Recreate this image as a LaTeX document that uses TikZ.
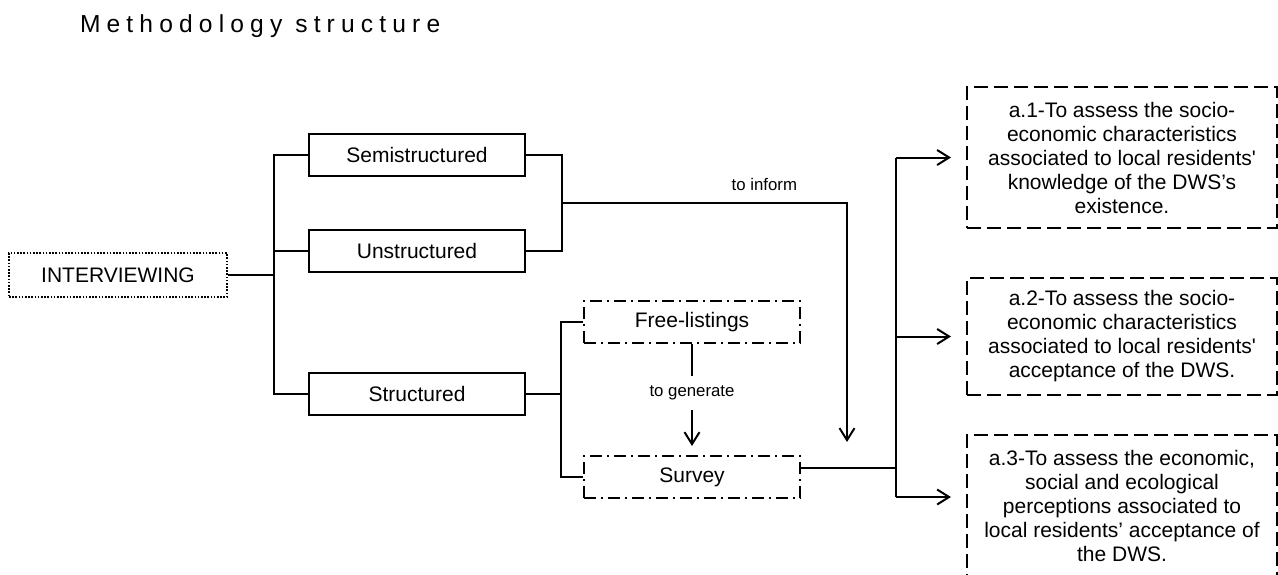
\documentclass[tikz,border=0pt]{standalone}
\usepackage{fontspec}
\setmainfont{Liberation Sans}
\usetikzlibrary{arrows.meta,positioning,calc}

\begin{document}
\begin{tikzpicture}[>={Straight Barb[length=6pt,width=7.5pt]},line width=1pt,on grid,
  font=\fontsize{10.5}{12}\selectfont,
  box/.style        ={draw,inner sep=0pt,minimum width=108pt,minimum height=21pt},
  dotbox/.style     ={box,line width=0.8pt,dash pattern=on 0.8pt off 0.8pt,minimum width=109pt,minimum height=22pt},
  dashdotbox/.style ={box,dash pattern=on 6pt off 2.5pt on 1pt off 2.5pt},
  aimbox/.style     ={draw,dash pattern=on 7pt off 3pt,inner sep=0pt,minimum width=155pt,align=center},
  lab/.style        ={font=\fontsize{8.4}{10}\selectfont,inner sep=2pt}]
\useasboundingbox (0,0) rectangle (639pt,-287pt);
\clip (0,0) rectangle (639pt,-287pt);
\node[anchor=base west,inner sep=0pt,font=\fontsize{12.3}{14}\selectfont\addfontfeature{LetterSpace=25}]
  (title) at (39.5pt,-16.2pt) {Methodology structure};

  \node[box]        (semi) at (208.5pt,-77.5pt)              {Semistructured};
  \node[box]        (unst) [below=48pt of semi]             {Unstructured};
  \node[box]        (stru) [below=71.5pt of unst]           {Structured};
  \node[dotbox]     (int)  [below left=12pt and 149.5pt of unst] {INTERVIEWING};
  \node[dashdotbox] (fl)   [above right=36pt and 137.5pt of stru] {Free-listings};
  \node[dashdotbox] (sv)   [below=77.5pt of fl]             {Survey};
  \node[aimbox,minimum height=70.5pt] (a1) [right=352.5pt of semi,yshift=-1.25pt]
    {a.1-To assess the socio-\\economic characteristics\\associated to local residents\textquotesingle\\knowledge of the DWS’s\\existence.};
  \node[aimbox,minimum height=58.5pt] (a2) [below=89.5pt of a1]
    {a.2-To assess the socio-\\economic characteristics\\associated to local residents\textquotesingle\\acceptance of the DWS.};
  \node[aimbox,minimum height=70.5pt] (a3) [below=84.5pt of a2]
    {a.3-To assess the economic,\\social and ecological\\perceptions associated to\\local residents’ acceptance of\\the DWS.};

% interviewing branches
\draw (int.east) -- ++(23pt,0) coordinate (jl);
\draw (semi.west) -- (semi.west -| jl) |- (stru.west);
\draw (unst.west) -- (unst.west -| jl);
% semi + unstructured
\coordinate (inf) at (423.5pt,-221pt);
\draw (semi.east) -- ++(18pt,0) coordinate (jr) |- (unst.east);
\draw[->] ($(jr)!.5!(jr |- unst.east)$) coordinate (jm) -- (jm -| inf)
      node[lab,pos=.71,above=3.5pt] {to inform} -- (inf);
% structured
\draw (stru.east) -- ++(17.5pt,0) coordinate (js);
\draw (fl.west) -- (fl.west -| js) |- (sv.west);
\draw[->,shorten >=4.5pt] (fl) -- node[lab,pos=.44,fill=white,inner ysep=5pt] {to generate} (sv);
% aims
\coordinate (a3in) at ([yshift=4.25pt]a3.west);
\draw ([yshift=4.5pt]sv.east) -- ++(47.5pt,0) coordinate (jo);
\draw (jo |- a1.west) -- (jo |- a3in);
\draw[->,shorten >=7.5pt] (jo |- a1.west) -- (a1.west);
\draw[->,shorten >=7.5pt] (jo |- a2.west) -- (a2.west);
\draw[->,shorten >=7.5pt] (jo |- a3in) -- (a3in);
\end{tikzpicture}
\end{document}
